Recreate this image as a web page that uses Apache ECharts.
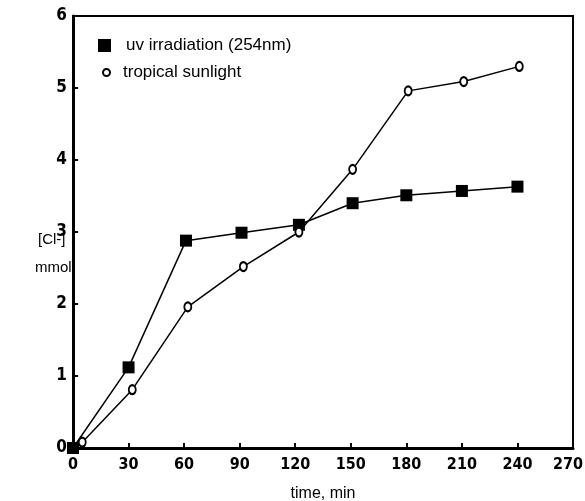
<!DOCTYPE html>
<html><head><meta charset="utf-8">
<script src="https://cdn.jsdelivr.net/npm/echarts@6/dist/echarts.min.js"></script>
<style>html,body{margin:0;padding:0;background:#fff}#c{width:585px;height:501px}</style>
</head><body><div id="c"></div>
<script>
const uvTime = [0, 30, 61, 91, 122, 151, 180, 210, 240];
const uvValue = [0, 1.12, 2.88, 2.99, 3.1, 3.4, 3.51, 3.57, 3.63];
const sunTime = [5, 32, 62, 92, 122, 151, 181, 211, 241];
const sunValue = [0.08, 0.81, 1.96, 2.52, 3.0, 3.87, 4.96, 5.09, 5.3];
const seriesNames = ['uv irradiation (254nm)', 'tropical sunlight'];
const xTicks = [0, 270, 30];
const yTicks = [0, 6, 1];

const tickFont = "'DejaVu Sans Condensed','Liberation Sans Narrow','Liberation Sans',Arial,sans-serif";
const font = "'Liberation Sans Narrow','Liberation Sans',Arial,sans-serif";
const tickStyle = {fontFamily: tickFont, fontSize: 16, fontWeight: 'bold', color: '#000'};
const chart = echarts.init(document.getElementById('c'));
chart.setOption({
  backgroundColor: '#fff',
  animation: false,
  grid: {left: 73, right: 12, top: 16, bottom: 53, outerBoundsMode: 'none', containLabel: false,
         show: true, borderColor: '#000', borderWidth: 2},
  legend: [
    {orient: 'vertical', left: 93, top: 32, itemWidth: 13, itemHeight: 13,
     textStyle: {fontFamily: font, fontSize: 17, color: '#000', padding: [0,0,0,10]},
     data: [{name: seriesNames[0], icon: 'rect'}]},
    {orient: 'vertical', left: 97, top: 59, itemWidth: 7, itemHeight: 9,
     textStyle: {fontFamily: font, fontSize: 17, color: '#000', padding: [0,0,0,8]},
     data: [{name: seriesNames[1], icon: 'emptyCircle', itemStyle:{color:'#000', borderColor:'#000', borderWidth:1}}]}
  ],
  xAxis: {
    type: 'value', min: xTicks[0], max: xTicks[1], interval: xTicks[2],
    name: 'time, min', nameLocation: 'middle', nameGap: 38,
    nameTextStyle: {fontFamily: font, fontSize: 16, color: '#000'},
    axisLine: {lineStyle: {color: '#000', width: 3}},
    axisTick: {inside: true, length: 5, lineStyle: {color: '#000', width: 2}},
    axisLabel: Object.assign({}, tickStyle, {
      margin: 9,
      formatter: v => v === xTicks[1] ? '{r|' + v + '}' : String(v),
      rich: {r: Object.assign({}, tickStyle, {padding: [0, 10, 0, 0]})}
    }),
    splitLine: {show: false}
  },
  yAxis: {
    type: 'value', min: yTicks[0], max: yTicks[1], interval: yTicks[2],
    axisLine: {show: true, lineStyle: {color: '#000', width: 3}},
    axisTick: {show: true, inside: true, length: 5, lineStyle: {color: '#000', width: 2}},
    axisLabel: Object.assign({}, tickStyle, {fontSize: 17, margin: 6}),
    splitLine: {show: false}
  },
  graphic: [
    {type: 'text', left: 38, top: 232, style: {text: '[Cl-]', fontFamily: font, fontSize: 15, fill: '#000'}},
    {type: 'text', left: 35, top: 260, style: {text: 'mmol', fontFamily: font, fontSize: 15, fill: '#000'}}
  ],
  series: [
    {name: seriesNames[0], type: 'line', data: uvTime.map((t,i)=>[t, uvValue[i]]),
     symbol: 'rect', symbolSize: 12, itemStyle: {color: '#000'},
     lineStyle: {color: '#000', width: 1.5}},
    {name: seriesNames[1], type: 'line', data: sunTime.map((t,i)=>[t, sunValue[i]]),
     symbol: 'emptyCircle', symbolSize: [7,9], itemStyle: {color: '#000', borderColor: '#000', borderWidth: 1.2},
     lineStyle: {color: '#000', width: 1.5}}
  ]
});
</script></body></html>
